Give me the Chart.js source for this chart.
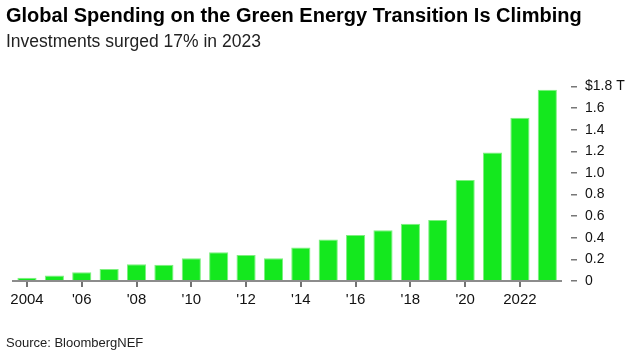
<!DOCTYPE html>
<html>
<head>
<meta charset="utf-8">
<script src="https://cdn.jsdelivr.net/npm/chart.js@4.4.0/dist/chart.umd.min.js"></script>
<style>
  html, body { margin: 0; padding: 0; background: #fff; }
  #wrap { position: relative; width: 628px; height: 360px; overflow: hidden; font-family: "Liberation Sans", Arial, sans-serif; }
  #wrap canvas { position: absolute; left: 0; top: 0; }
  .title { position: absolute; left: 6px; top: 5px; font-size: 20px; line-height: 20px; font-weight: bold; color: #000; white-space: nowrap; }
  .subtitle { position: absolute; left: 6px; top: 32.5px; font-size: 17.5px; line-height: 17.5px; color: #222; white-space: nowrap; }
  .source { position: absolute; left: 6px; top: 336px; font-size: 13px; line-height: 13px; color: #222; white-space: nowrap; }
</style>
</head>
<body>
<div id="wrap">
  <canvas id="chart" width="628" height="360"></canvas>
  <div class="title">Global Spending on the Green Energy Transition Is Climbing</div>
  <div class="subtitle">Investments surged 17% in 2023</div>
  <div class="source">Source: BloombergNEF</div>
</div>
<script>
(function () {
  "use strict";

  // Data (trillions of USD)
  const years = ['2004', '2005', '2006', '2007', '2008', '2009', '2010', '2011', '2012', '2013',
                 '2014', '2015', '2016', '2017', '2018', '2019', '2020', '2021', '2022', '2023'];
  const spending = [0.03, 0.05, 0.08, 0.11, 0.155, 0.15, 0.21, 0.265, 0.24, 0.21,
                    0.31, 0.385, 0.425, 0.47, 0.53, 0.565, 0.935, 1.19, 1.51, 1.77];
  const xTickLabels = ['2004', null, "'06", null, "'08", null, "'10", null, "'12", null,
                       "'14", null, "'16", null, "'18", null, "'20", null, '2022', null];
  const yTickLabels = ['0', '0.2', '0.4', '0.6', '0.8', '1.0', '1.2', '1.4', '1.6', '$1.8 T'];

  const green = '#14e81e';
  const fontFamily = '"Liberation Sans", Arial, sans-serif';

  // small tick marks under the labelled years
  const xTickMarks = {
    id: 'xTickMarks',
    afterDraw: function (chart) {
      const scale = chart.scales.x;
      const c = chart.ctx;
      c.save();
      c.strokeStyle = '#444';
      c.lineWidth = 1.5;
      for (let i = 0; i < xTickLabels.length; i++) {
        if (!xTickLabels[i]) continue;
        const x = Math.round(scale.getPixelForValue(i));
        c.beginPath();
        c.moveTo(x, scale.top + 1);
        c.lineTo(x, scale.top + 6);
        c.stroke();
      }
      c.restore();
    }
  };

  const ctx = document.getElementById('chart').getContext('2d');

  new Chart(ctx, {
    type: 'bar',
    data: {
      labels: years,
      datasets: [{
        data: spending,
        backgroundColor: green,
        borderColor: '#7df07f',
        borderWidth: 1,
        barPercentage: 0.7,
        categoryPercentage: 1.0
      }]
    },
    options: {
      responsive: false,
      animation: false,
      layout: {
        padding: { top: 86.5, left: 12, right: 3, bottom: 39 }
      },
      scales: {
        x: {
          offset: true,
          afterFit: function (scale) { scale.height = 40; },
          border: { display: true, color: '#8c8c8c', width: 2, z: 1 },
          grid: {
            display: false,
            drawTicks: false
          },
          ticks: {
            autoSkip: false,
            maxRotation: 0,
            padding: 10,
            color: '#111',
            font: { family: fontFamily, size: 15 },
            callback: function (val, i) { return xTickLabels[i]; }
          }
        },
        y: {
          position: 'right',
          min: 0,
          max: 1.8,
          afterFit: function (scale) { scale.width = 64; },
          border: { display: false },
          grid: {
            drawOnChartArea: false,
            tickLength: 16,
            tickBorderDash: [0, 10, 6, 100],
            lineWidth: 1.5,
            color: '#777'
          },
          ticks: {
            stepSize: 0.2,
            padding: 8,
            color: '#111',
            font: { family: fontFamily, size: 14 },
            callback: function (val, i) { return yTickLabels[i]; }
          }
        }
      },
      plugins: {
        legend: { display: false },
        tooltip: { enabled: false }
      }
    },
    plugins: [xTickMarks]
  });
})();
</script>
</body>
</html>
